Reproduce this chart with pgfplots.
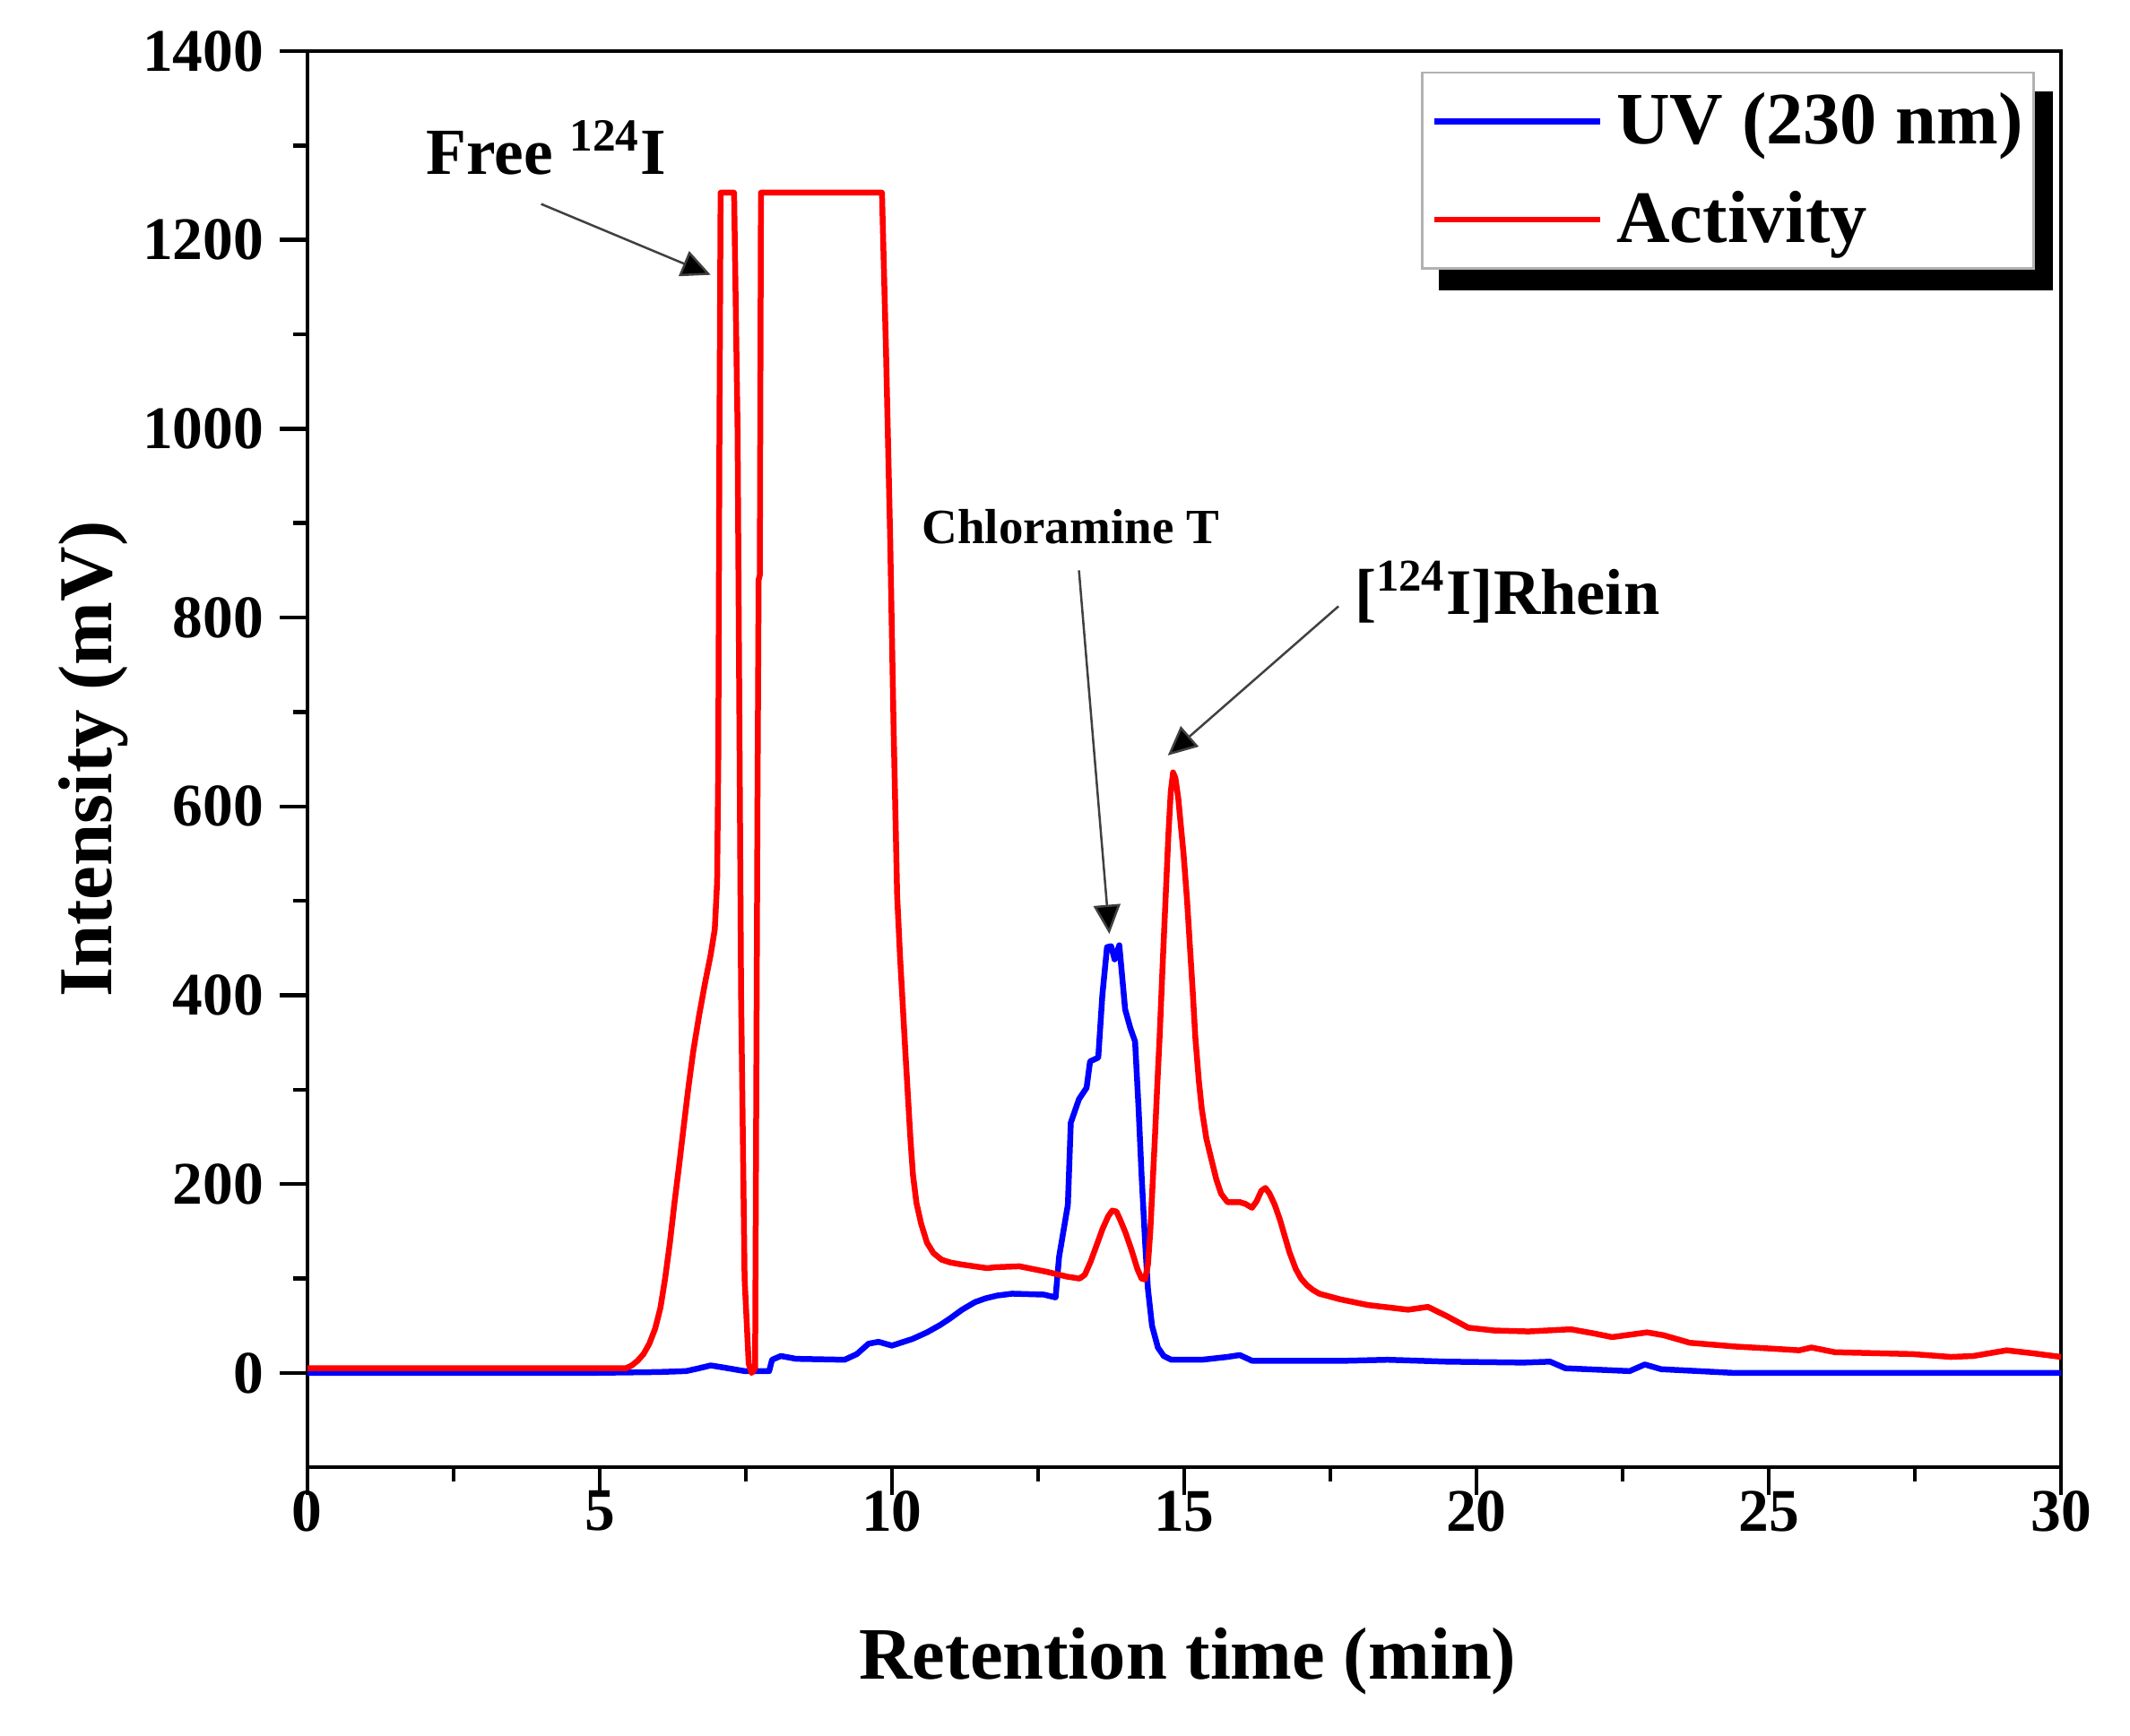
\documentclass[border=0pt]{standalone}
\usepackage{fontspec}
\setmainfont{Liberation Serif}
\usepackage{pgfplots}
\pgfplotsset{compat=1.18}
\usetikzlibrary{arrows.meta}
\definecolor{uvblue}{RGB}{0,0,255}
\definecolor{actred}{RGB}{255,0,0}
\begin{document}
\begin{tikzpicture}
\useasboundingbox (-68.6pt,-59.8pt) rectangle (406.8pt,327.6pt);
\begin{axis}[
  at={(0,0)}, anchor=south west,
  scale only axis,
  width=391.4pt, height=316.2pt,
  xmin=0, xmax=30, ymin=-100, ymax=1400,
  xtick={0,5,...,30}, ytick={0,200,...,1400},
  minor x tick num=1, minor y tick num=1,
  xtick pos=bottom, ytick pos=left,
  tick align=outside,
  major tick length=6.2pt, minor tick length=3.2pt,
  every tick/.style={black, line width=0.9pt},
  axis line style={line width=0.8pt},
  /pgf/number format/assume math mode=true,
  /pgf/number format/1000 sep={},
  tick label style={font=\bfseries\fontsize{13.5}{16}\selectfont},
  xticklabel style={yshift=4.5pt},
  xlabel={Retention time (min)},
  ylabel={Intensity (mV)},
  xlabel style={font=\bfseries\fontsize{16.5}{20}\selectfont, at={(axis description cs:0.502,-0.137)}, anchor=center},
  ylabel style={font=\bfseries\fontsize{17}{20}\selectfont, at={(axis description cs:-0.122,0.5)}, anchor=center},
  legend cell align=left,
  legend image code/.code={\path (0pt,0pt); \draw[#1, line width=1.3pt] (1.2pt,0pt) -- (38.2pt,0pt);},
  legend style={at={(0.985,0.9855)}, anchor=north east, draw=gray!60, line width=0.5pt, fill=white,
    font=\bfseries\fontsize{16.5}{20}\selectfont,
    nodes={inner sep=1.5pt}, inner xsep=0.8pt, inner ysep=2.9pt, row sep=6pt,
    /tikz/every odd column/.append style={column sep=1.6pt}},
]
% legend shadow
\fill[black] ([xshift=4pt,yshift=-4.5pt]axis description cs:0.635,0.8455) rectangle ([xshift=4pt,yshift=-4.5pt]axis description cs:0.985,0.9855);
\addplot[uvblue, line width=1.3pt, line join=round] coordinates {
(0,0) (4.72,0) (6.0,1) (6.48,2) (6.7,5) (6.9,8) (7.1,6) (7.48,2) (7.9,2) (7.95,14)
(8.1,18) (8.36,15) (9.19,14) (9.4,20) (9.6,31) (9.77,33) (10.0,29) (10.35,36) (10.6,43)
(10.83,51) (11.0,58) (11.2,67) (11.42,75) (11.6,79) (11.8,82) (12.06,84) (12.6,83)
(12.8,80) (12.86,123) (13.01,178)
(13.06,265) (13.2,290) (13.33,302) (13.39,330) (13.53,334) (13.6,400) (13.68,451)
(13.75,452) (13.81,438) (13.89,453) (13.99,385) (14.08,365) (14.16,351) (14.22,280)
(14.27,211) (14.33,140) (14.38,89) (14.45,50) (14.55,27) (14.65,18) (14.78,14) (15.3,14) (15.74,17)
(15.95,19) (16.16,13) (17.8,13) (18.48,14) (19.5,12) (20.8,11) (21.26,12) (21.52,5)
(22.62,2) (22.88,9) (23.16,4) (24.43,0) (30,0)
};
\addlegendentry{UV (230 nm)}
\addplot[actred, line width=1.3pt, line join=round] coordinates {
(0,5) (5.45,5) (5.55,8) (5.65,13) (5.75,20) (5.85,31) (5.95,47) (6.04,69) (6.12,100)
(6.2,137) (6.28,180) (6.36,220) (6.44,262) (6.52,303) (6.6,340) (6.7,378) (6.8,412)
(6.9,443) (6.97,470) (7.01,520) (7.03,650) (7.05,1000)
(7.07,1250) (7.3,1250) (7.36,1000) (7.42,400) (7.48,100) (7.55,10) (7.6,0) (7.66,5)
(7.7,600) (7.72,840) (7.74,845) (7.76,1250) (9.83,1250) (9.9,1080) (9.97,885) (10.03,680)
(10.09,505) (10.14,440) (10.18,396) (10.23,340) (10.28,287) (10.32,245) (10.36,210)
(10.42,180) (10.5,158) (10.6,138) (10.71,127) (10.85,120) (11.0,117) (11.18,115)
(11.63,111) (11.77,112) (12.18,113) (12.66,107) (13.0,102) (13.21,100) (13.3,104)
(13.4,118) (13.5,135) (13.6,152) (13.7,166) (13.77,172) (13.84,171) (13.9,163) (14.0,148)
(14.1,130) (14.2,110) (14.27,100) (14.33,99) (14.38,115) (14.42,150) (14.46,200)
(14.5,250) (14.54,305) (14.58,356) (14.63,430) (14.68,500) (14.73,570) (14.77,615)
(14.81,636) (14.85,630) (14.9,608) (14.95,575) (14.99,549) (15.05,500) (15.1,450)
(15.15,400) (15.19,356) (15.25,310) (15.3,280) (15.38,248) (15.47,225) (15.55,205)
(15.63,190) (15.74,181) (15.95,181) (16.05,179) (16.16,175) (16.24,182) (16.32,193)
(16.39,196) (16.46,190) (16.55,178) (16.64,162) (16.72,145) (16.8,128) (16.91,110)
(17.0,100) (17.1,93) (17.2,88) (17.31,84) (17.67,78) (18.14,72) (18.83,67) (19.17,70)
(19.5,60) (19.86,48) (20.3,45) (20.89,44) (21.52,46) (21.64,46) (22.0,42) (22.32,38)
(22.92,43) (23.2,40) (23.65,32) (24.43,28) (25.0,26) (25.52,24) (25.73,27) (26.13,22)
(27.46,20) (28.12,17) (28.5,18) (29.07,24) (29.5,21) (30,17)
};
\addlegendentry{Activity}
% annotations
\node[anchor=base west, inner sep=0pt, font=\bfseries\fontsize{14.7}{17}\selectfont] at (axis cs:2.02,1269) {Free \textsuperscript{124}I};
\draw[black!75, line width=0.5pt, -{Triangle[length=6.5pt,width=6pt,fill=black]}] (axis cs:4.0,1238) -- (axis cs:6.9,1163);
\node[anchor=base west, inner sep=0pt, font=\bfseries\fontsize{11}{13}\selectfont] at (axis cs:10.5,878) {Chloramine T};
\draw[black!75, line width=0.5pt, -{Triangle[length=6.5pt,width=6pt,fill=black]}] (axis cs:13.2,850) -- (axis cs:13.72,465);
\node[anchor=base west, inner sep=0pt, font=\bfseries\fontsize{14.5}{17}\selectfont] at (axis cs:17.9,803) {[\textsuperscript{124}I]Rhein};
\draw[black!75, line width=0.5pt, -{Triangle[length=6.5pt,width=6pt,fill=black]}] (axis cs:17.64,812) -- (axis cs:14.72,654);
\end{axis}
\end{tikzpicture}
\end{document}
